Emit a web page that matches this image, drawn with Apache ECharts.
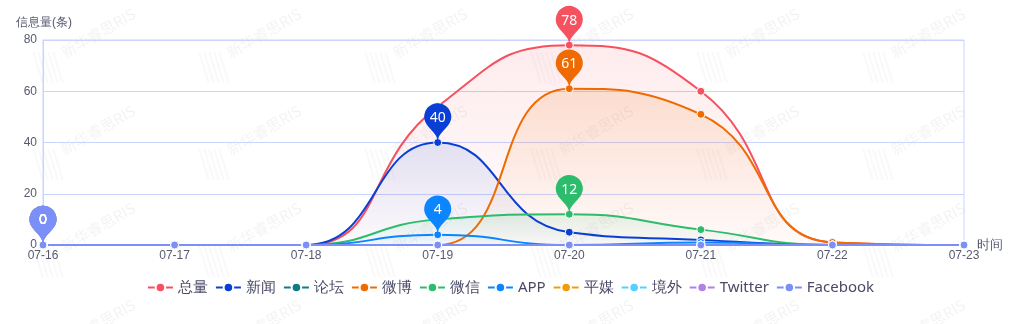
<!DOCTYPE html>
<html>
<head>
<meta charset="utf-8">
<script src="https://cdn.jsdelivr.net/npm/echarts@6/dist/echarts.min.js"></script>
<style>
  html, body { margin: 0; padding: 0; background: #fff; }
  #chart { width: 1021px; height: 324px; }
</style>
</head>
<body>
<div id="chart"></div>
<script>
// Dates on the time axis
const dates = ['07-16', '07-17', '07-18', '07-19', '07-20', '07-21', '07-22', '07-23'];

// Daily message counts per channel
const total    = [0, 0, 0, 54, 78, 60, 1, 0];
const news     = [0, 0, 0, 40, 5, 2, 0, 0];
const forum    = [0, 0, 0, 0, 0, 0, 0, 0];
const weibo    = [0, 0, 0, 0, 61, 51, 1, 0];
const wechat   = [0, 0, 0, 10, 12, 6, 0, 0];
const app      = [0, 0, 0, 4, 0, 1, 0, 0];
const print    = [0, 0, 0, 0, 0, 0, 0, 0];
const overseas = [0, 0, 0, 0, 0, 0, 0, 0];
const twitter  = [0, 0, 0, 0, 0, 0, 0, 0];
const facebook = [0, 0, 0, 0, 0, 0, 0, 0];

const yTicks = [0, 20, 40, 60, 80];

const seriesDefs = [
  { name: '总量', data: total, color: '#f5515f', area: 0.16 },
  { name: '新闻', data: news, color: '#0a3fd6', area: 0.16 },
  { name: '论坛', data: forum, color: '#0e7c86', area: 0 },
  { name: '微博', data: weibo, color: '#ef6a00', area: 0.2 },
  { name: '微信', data: wechat, color: '#2dbc6c', area: 0.16 },
  { name: 'APP', data: app, color: '#0b86ff', area: 0.1 },
  { name: '平媒', data: print, color: '#f39c0b', area: 0 },
  { name: '境外', data: overseas, color: '#55d0ff', area: 0 },
  { name: 'Twitter', data: twitter, color: '#b37feb', area: 0 },
  { name: 'Facebook', data: facebook, color: '#7a8ff8', area: 0 }
];

function hexA(hex, a) {
  const n = parseInt(hex.slice(1), 16);
  return 'rgba(' + (n >> 16) + ',' + ((n >> 8) & 255) + ',' + (n & 255) + ',' + a + ')';
}

const series = seriesDefs.map(d => ({
  name: d.name,
  type: 'line',
  smooth: true,
  data: d.data,
  symbol: 'circle',
  symbolSize: 8,
  showSymbol: true,
  itemStyle: { color: d.color, borderColor: '#fff', borderWidth: 1 },
  lineStyle: { color: d.color, width: 2 },
  areaStyle: d.area > 0 ? {
    color: new echarts.graphic.LinearGradient(0, 0, 0, 1, [
      { offset: 0, color: hexA(d.color, d.area) },
      { offset: 1, color: hexA(d.color, 0.02) }
    ])
  } : undefined,
  markPoint: {
    symbol: 'pin',
    symbolSize: 45,
    data: [{ type: 'max', name: '最大值' }],
    itemStyle: { color: d.color, borderWidth: 0 },
    label: { color: '#fff', fontSize: 14, fontFamily: 'Noto Sans', offset: [0, -1] }
  }
}));

// Faint repeating brand watermark: slanted text plus a striped logo mark
const watermark = [];
for (let row = 0; row < 4; row++) {
  for (let col = 0; col < 6; col++) {
    const cx = 98 + col * 166;
    const cy = 33 + row * 97;
    watermark.push({
      type: 'text',
      x: cx, y: cy,
      rotation: Math.PI / 6,
      silent: true,
      z: -10,
      style: {
        text: '新华睿思RIS',
        fill: 'rgba(0,0,0,0.05)',
        font: '15px "Noto Sans CJK SC"',
        textAlign: 'center',
        textVerticalAlign: 'middle'
      }
    });
    const lx = cx - 52, ly = cy + 34;
    for (let s = 0; s < 5; s++) {
      const ox = lx - 14 + s * 5;
      watermark.push({
        type: 'polygon',
        silent: true,
        z: -10,
        shape: { points: [[ox, ly - 15], [ox + 2.5, ly - 15], [ox + 12, ly + 16], [ox + 9.5, ly + 16]] },
        style: { fill: 'rgba(0,0,0,0.025)' }
      });
    }
  }
}

const chart = echarts.init(document.getElementById('chart'));
chart.setOption({
  animation: false,
  color: seriesDefs.map(d => d.color),
  graphic: watermark,
  grid: {
    left: 43, right: 57, top: 40, bottom: 79,
    show: true, borderColor: '#c9d4ff', borderWidth: 1
  },
  legend: {
    bottom: 24,
    left: 'center',
    itemWidth: 25,
    itemHeight: 12,
    itemGap: 7,
    textStyle: { color: '#4a4a68', fontSize: 15, fontFamily: 'Noto Sans' },
    data: seriesDefs.map(d => d.name)
  },
  xAxis: {
    type: 'category',
    boundaryGap: false,
    data: dates,
    name: '时间',
    nameGap: 13,
    nameMoveOverlap: false,
    nameTextStyle: { color: '#555a6e', fontSize: 13, padding: [0, 0, -4, 0] },
    axisLine: { lineStyle: { color: '#c9d4ff' } },
    axisTick: { show: false },
    axisLabel: { color: '#555a6e', fontSize: 12, margin: 5 }
  },
  yAxis: {
    type: 'value',
    min: yTicks[0],
    max: yTicks[yTicks.length - 1],
    interval: 20,
    name: '信息量(条)',
    nameGap: 11,
    nameTextStyle: { color: '#555a6e', fontSize: 12, padding: [0, 0, 0, 2] },
    axisLine: { show: true, lineStyle: { color: '#c9d4ff' } },
    axisTick: { show: false },
    axisLabel: { color: '#555a6e', fontSize: 12, margin: 6 },
    splitLine: { lineStyle: { color: '#c9d4ff' } }
  },
  series: series
});
</script>
</body>
</html>
